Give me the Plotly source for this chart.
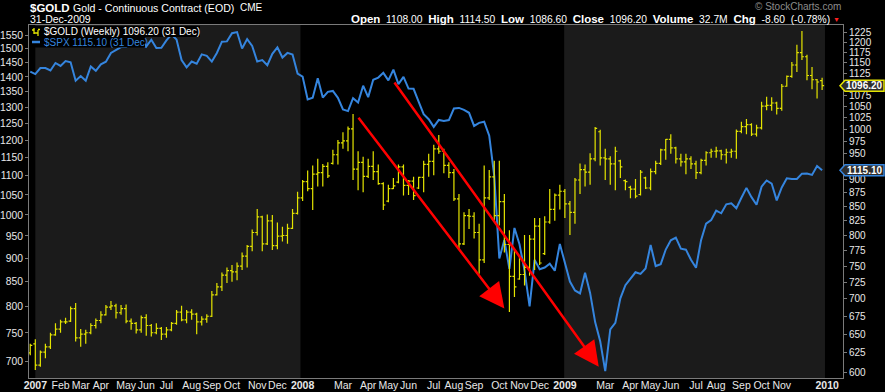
import math
import pandas as pd
import plotly.graph_objects as go

# ---------------- data ----------------
weeks = pd.date_range("2006-12-25", periods=158, freq="7D")  # weekly bars (Monday of each week)

spx_close = [
    1418.30,
    1409.71, 1430.73, 1430.50, 1422.18, 1448.39, 1438.06, 1455.54, 1451.19, 1387.17, 1402.84,
    1386.95, 1436.11, 1420.86, 1443.76, 1452.85, 1484.35, 1494.07, 1505.62, 1505.85, 1522.75,
    1515.73, 1536.34, 1507.67, 1532.91, 1502.56, 1503.35, 1530.44, 1552.50, 1534.10, 1458.95,
    1433.06, 1453.64, 1445.94, 1479.37, 1473.99, 1453.55, 1484.25, 1525.75, 1526.75, 1557.59,
    1561.80, 1500.63, 1535.28, 1509.65, 1453.70, 1458.74, 1440.70, 1481.14, 1504.66, 1467.95,
    1484.46, 1478.49,
    1411.63, 1401.02, 1325.19, 1330.61, 1395.42, 1331.29, 1349.99, 1353.11, 1330.63, 1293.37,
    1288.14, 1329.51, 1315.22, 1370.40, 1332.83, 1390.33, 1397.84, 1413.90, 1388.28, 1425.35,
    1375.93, 1400.38, 1360.68, 1360.03, 1317.93, 1278.38, 1262.90, 1239.49, 1260.68, 1257.76,
    1260.31, 1296.32, 1298.20, 1292.20, 1282.83, 1242.31, 1251.70, 1255.08, 1213.27, 1099.23,
    899.22, 940.55, 876.77, 968.75, 930.99, 873.29, 800.03, 896.24, 876.07, 879.73,
    887.88, 872.80,
    931.80, 890.35, 850.12, 831.95, 825.88, 868.60, 826.84, 770.05, 735.09, 683.38,
    756.55, 768.54, 815.94, 842.50, 856.56, 869.60, 866.23, 877.52, 929.23, 882.88,
    887.00, 919.14, 940.09, 946.21, 921.23, 918.90, 896.42, 879.13, 940.38, 979.26,
    987.48, 1010.48, 1004.09, 1026.13, 1028.93, 1016.40, 1042.73, 1068.30, 1044.38, 1025.21,
    1071.49, 1087.68, 1079.60, 1036.19, 1069.30, 1093.48, 1091.38, 1091.49, 1105.98, 1106.41,
    1102.47, 1126.48, 1115.10,
]

gold_open = [
    625, 637, 609, 626, 633, 649, 657, 667, 668, 686, 645, 650, 652, 662, 669, 677, 688, 690, 680, 686,
    668, 665, 656, 673, 662, 652, 658, 650, 656, 665, 681, 670, 681, 678, 667, 671, 675, 706, 718, 736,
    743, 741, 750, 766, 782, 805, 832, 786, 825, 783, 799, 800, 812, 838, 866, 896, 883, 910, 913, 925,
    931, 948, 972, 976, 1001, 920, 933, 906, 925, 915, 892, 860, 883, 895, 924, 889, 897, 884, 904, 929,
    935, 960, 955, 927, 913, 864, 786, 834, 833, 805, 760, 866, 905, 834, 859, 785, 734, 730, 737, 748,
    794, 816, 770, 823, 845, 871, 878, 855, 840, 899, 919, 914, 940, 995, 942, 940, 930, 936, 898, 885,
    882, 872, 903, 884, 915, 931, 958, 979, 962, 940, 934, 940, 930, 913, 937, 952, 955, 956, 948, 953,
    955, 996, 1006, 1010, 990, 1003, 1050, 1052, 1057, 1045, 1095, 1118, 1145, 1175, 1165, 1120, 1110, 1108,
]
gold_high = [
    637, 643, 628, 637, 652, 665, 670, 673, 689, 694, 657, 656, 665, 672, 682, 691, 697, 693, 691, 692,
    672, 667, 676, 678, 664, 665, 660, 660, 667, 684, 690, 684, 685, 680, 675, 678, 712, 724, 740, 748,
    752, 756, 772, 784, 810, 846, 834, 836, 835, 822, 815, 820, 846, 877, 899, 917, 927, 940, 930, 933,
    958, 978, 994, 1006, 1033, 955, 944, 940, 955, 929, 895, 890, 903, 929, 929, 899, 905, 905, 936, 950,
    968, 988, 960, 933, 920, 873, 840, 846, 840, 820, 927, 918, 936, 936, 873, 809, 778, 768, 801, 801,
    830, 830, 833, 882, 874, 890, 882, 860, 903, 931, 929, 951, 1005, 999, 960, 945, 964, 938, 900, 888,
    901, 918, 905, 921, 936, 960, 980, 990, 964, 950, 950, 945, 936, 940, 955, 960, 964, 958, 960, 960,
    1000, 1016, 1022, 1013, 1010, 1060, 1071, 1070, 1060, 1100, 1120, 1152, 1195, 1230, 1170, 1140, 1112, 1114.5,
]
gold_low = [
    622, 603, 607, 618, 630, 648, 652, 664, 667, 640, 633, 637, 650, 658, 665, 676, 684, 672, 677, 665,
    656, 651, 652, 648, 647, 650, 642, 645, 654, 663, 668, 665, 670, 650, 662, 666, 674, 705, 712, 724,
    726, 728, 744, 748, 774, 800, 774, 784, 776, 777, 790, 786, 811, 836, 860, 878, 844, 887, 887, 903,
    929, 929, 960, 955, 899, 880, 876, 903, 899, 890, 844, 858, 882, 893, 870, 871, 862, 882, 876, 905,
    908, 950, 912, 903, 860, 778, 784, 811, 795, 738, 755, 862, 823, 817, 772, 681, 703, 729, 720, 735,
    744, 752, 768, 820, 825, 845, 830, 801, 820, 873, 887, 890, 935, 927, 899, 890, 880, 903, 880, 865,
    865, 870, 882, 880, 910, 928, 938, 950, 931, 925, 910, 920, 901, 910, 927, 942, 942, 938, 931, 942,
    940, 992, 990, 986, 985, 1000, 1041, 1040, 1032, 1040, 1094, 1115, 1128, 1157, 1109, 1088, 1067, 1086.6,
]
gold_close = [
    635, 609, 626, 633, 649, 657, 667, 667, 686, 645, 650, 652, 662, 669, 677, 688, 690, 680, 686, 668,
    665, 656, 673, 662, 652, 658, 650, 656, 665, 681, 670, 681, 678, 667, 671, 675, 706, 718, 736, 743,
    741, 750, 766, 782, 805, 832, 786, 825, 783, 799, 800, 812, 838, 866, 896, 883, 910, 913, 925, 907,
    948, 972, 976, 1001, 920, 933, 906, 925, 915, 892, 853, 883, 888, 924, 889, 897, 870, 904, 929, 935,
    960, 955, 927, 913, 864, 786, 834, 833, 805, 760, 866, 905, 834, 859, 785, 734, 718, 737, 748, 794,
    816, 755, 823, 845, 871, 878, 855, 840, 899, 919, 914, 940, 1002, 942, 940, 930, 955, 924, 896, 882,
    869, 914, 884, 915, 931, 958, 979, 962, 940, 934, 940, 930, 913, 937, 952, 955, 956, 948, 953, 955,
    996, 1006, 1010, 990, 1003, 1050, 1052, 1057, 1045, 1095, 1118, 1145, 1175, 1165, 1120, 1110, 1104.8, 1096.2,
]

spx_ticks = [700, 750, 800, 850, 900, 950, 1000, 1050, 1100, 1150, 1200, 1250, 1300, 1350,
             1400, 1450, 1500, 1550]
gold_ticks = [600, 625, 650, 675, 700, 725, 750, 775, 800, 825, 850, 875, 900, 950, 975,
              1000, 1025, 1050, 1075, 1125, 1150, 1175, 1200, 1225]

month_tick_dates = [
    "2007-01-01", "2007-02-05", "2007-03-05", "2007-04-02", "2007-05-07", "2007-06-04",
    "2007-07-02", "2007-08-06", "2007-09-03", "2007-10-01", "2007-11-05", "2007-12-03",
    "2008-01-07", "2008-03-03", "2008-04-07", "2008-05-05", "2008-06-02", "2008-07-07",
    "2008-08-04", "2008-09-01", "2008-10-06", "2008-11-03", "2008-12-01",
    "2009-01-05", "2009-03-02", "2009-04-06", "2009-05-04", "2009-06-01", "2009-07-06",
    "2009-08-03", "2009-09-07", "2009-10-05", "2009-11-02", "2010-01-04",
]
month_tick_text = [
    "<b>2007</b>", "Feb", "Mar", "Apr", "May", "Jun", "Jul", "Aug", "Sep", "Oct", "Nov", "Dec",
    "<b>2008</b>", "Mar", "Apr", "May", "Jun", "Jul", "Aug", "Sep", "Oct", "Nov", "Dec",
    "<b>2009</b>", "Mar", "Apr", "May", "Jun", "Jul", "Aug", "Sep", "Oct", "Nov", "<b>2010</b>",
]

# shaded calendar years
year_bands = [("2007-01-01", "2008-01-04"), ("2009-01-04", "2010-01-01")]

# red trend arrows (tail date, tail gold price, tip date, tip gold price)
arrow_tail_dates = ["2008-03-23", "2008-05-12"]
arrow_tail_prices = [1028, 1107]
arrow_tip_dates = ["2008-10-13", "2009-02-21"]
arrow_tip_prices = [686, 607]

gold_last = 1096.20
spx_last = 1115.10

# ---------------- figure ----------------
W, H = 885, 392
L, R, T, B = 29, 42, 25, 14
PW, PH = W - L - R, H - T - B

def px(x):
    return (x - L) / PW

def py(y):
    return (H - B - y) / PH

FONT = "Liberation Sans, Arial, sans-serif"
GOLD_C = "#e4e400"
SPX_C = "#3585de"
AX_C = "#7a7a7a"

fig = go.Figure()
fig.add_trace(go.Scatter(
    x=weeks, y=spx_close, mode="lines", yaxis="y",
    line=dict(color=SPX_C, width=2), hoverinfo="skip"))
fig.add_trace(go.Ohlc(
    x=weeks, open=gold_open, high=gold_high, low=gold_low, close=gold_close, yaxis="y2",
    increasing=dict(line=dict(color=GOLD_C, width=1.2)),
    decreasing=dict(line=dict(color=GOLD_C, width=1.2)),
    tickwidth=0.4, hoverinfo="skip"))

shapes = []
for x0, x1 in year_bands:
    shapes.append(dict(type="rect", xref="x", yref="paper", x0=x0, x1=x1, y0=0, y1=1,
                       fillcolor="#1b1b1b", line=dict(width=0), layer="below"))
# legend backgrounds and icons
shapes.append(dict(type="rect", xref="paper", yref="paper", x0=px(30), x1=px(200),
                   y0=py(37), y1=py(26), fillcolor="#000000", line=dict(width=0), layer="above"))
shapes.append(dict(type="rect", xref="paper", yref="paper", x0=px(30), x1=px(145),
                   y0=py(47.5), y1=py(37), fillcolor="#000000", line=dict(width=0), layer="above"))
for (bx, top, bot, ot, ct) in [(34, 28, 34, 30, 33), (38, 30, 36, 33, 29.5)]:
    shapes.append(dict(type="line", xref="paper", yref="paper", x0=px(bx), x1=px(bx),
                       y0=py(top), y1=py(bot), line=dict(color=GOLD_C, width=1.3), layer="above"))
    shapes.append(dict(type="line", xref="paper", yref="paper", x0=px(bx - 2), x1=px(bx),
                       y0=py(ot), y1=py(ot), line=dict(color=GOLD_C, width=1.3), layer="above"))
    shapes.append(dict(type="line", xref="paper", yref="paper", x0=px(bx), x1=px(bx + 2),
                       y0=py(ct), y1=py(ct), line=dict(color=GOLD_C, width=1.3), layer="above"))
shapes.append(dict(type="line", xref="paper", yref="paper", x0=px(32), x1=px(40),
                   y0=py(42), y1=py(42), line=dict(color=SPX_C, width=2.5), layer="above"))

# pointed price tags on the right edge
for val, yref, col in [(gold_last, "y2", GOLD_C), (spx_last, "y", SPX_C)]:
    shapes.append(dict(type="path", xref="paper", yref=yref, xsizemode="pixel", ysizemode="pixel",
                       xanchor=1, yanchor=val, path="M -3,0 L 2,5.5 L 41,5.5 L 41,-5.5 L 2,-5.5 Z",
                       fillcolor="#2e2e2e", line=dict(color=col, width=1.5), layer="above"))

annotations = []
def txt(text, x, y, size=11, color="#ffffff", anchor="left", **kw):
    annotations.append(dict(text=text, x=px(x), y=py(y), xref="paper", yref="paper",
                            xanchor=anchor, yanchor="middle", showarrow=False,
                            font=dict(family=FONT, size=size, color=color), **kw))

def lab(s):
    return "<span style='font-size:11.5px'><b>%s</b></span>" % s

txt("<b>$GOLD</b>", 28, 7.5, size=11.5)
txt("Gold - Continuous Contract (EOD)", 71, 7.5, size=10.6)
txt("CME", 238, 7.5, size=10)
txt("31-Dec-2009", 28, 19, size=10.5)
txt(lab("Open") + "  1108.00  " + lab("High") + "  1114.50  " + lab("Low") + "  1086.60  "
    + lab("Close") + "  1096.20  " + lab("Volume") + "  32.7M  " + lab("Chg") + "  -8.60  (-0.78%)",
    832, 19, size=10.3, anchor="right")
txt("▼", 831, 19.5, size=7, color="#ff2020")
txt("© StockCharts.com", 843, 7, size=10, color="#8c8c8c", anchor="right")
txt("$GOLD (Weekly) 1096.20 (31 Dec)", 42, 31.5, size=10)
txt("$SPX 1115.10 (31 Dec)", 42, 42.5, size=10, color=SPX_C)

# price tag texts (log axes: annotation y is log10 of the value)
for val, yref in [(gold_last, "y2"), (spx_last, "y")]:
    annotations.append(dict(text="<b>%.2f</b>" % val, x=px(864), xref="paper", y=math.log10(val),
                            yref=yref, xanchor="center", yanchor="middle", showarrow=False,
                            font=dict(family=FONT, size=10, color="#ffffff")))

# red arrows
for td, tp, hd, hp in zip(arrow_tail_dates, arrow_tail_prices, arrow_tip_dates, arrow_tip_prices):
    annotations.append(dict(text="", x=hd, y=math.log10(hp), xref="x", yref="y2",
                            ax=td, ay=math.log10(tp), axref="x", ayref="y2", showarrow=True,
                            arrowhead=2, arrowsize=2, arrowwidth=2.5, arrowcolor="#ff0000",
                            standoff=0, startstandoff=0))

fig.update_layout(
    width=W, height=H, margin=dict(l=L, r=R, t=T, b=B, pad=0, autoexpand=False),
    paper_bgcolor="#000000", plot_bgcolor="#000000", showlegend=False,
    font=dict(family=FONT, color="#e8e8e8", size=11),
    xaxis=dict(type="date", range=["2006-12-23 06:00", "2010-01-26"],
               tickvals=month_tick_dates, ticktext=month_tick_text, automargin=False,
               tickfont=dict(size=10.5, color="#e8e8e8"), ticks="", ticklen=0, showgrid=False,
               ticklabelstandoff=-3,
               showline=True, linecolor=AX_C, linewidth=1, mirror=True, zeroline=False,
               rangeslider=dict(visible=False), tickangle=0),
    yaxis=dict(type="log", range=[math.log10(672), math.log10(1589)], side="left",
               tickvals=spx_ticks, ticktext=[str(v) for v in spx_ticks], automargin=False,
               ticks="outside", ticklen=3, tickcolor=AX_C, tickfont=dict(size=10.3, color="#e8e8e8"),
               showgrid=False, showline=True, linecolor=AX_C, mirror=True, zeroline=False),
    yaxis2=dict(type="log", range=[math.log10(592.8), math.log10(1245.5)], side="right",
                overlaying="y", tickvals=gold_ticks, ticktext=[str(v) for v in gold_ticks],
                automargin=False,
                ticks="outside", ticklen=3, tickcolor=AX_C, tickfont=dict(size=10, color="#e8e8e8"),
                showgrid=False, showline=False, zeroline=False),
    shapes=shapes, annotations=annotations,
)

fig.write_html("out.html", config={"displayModeBar": False},
               post_script="document.body.style.margin='0';document.body.style.overflow='hidden';")
